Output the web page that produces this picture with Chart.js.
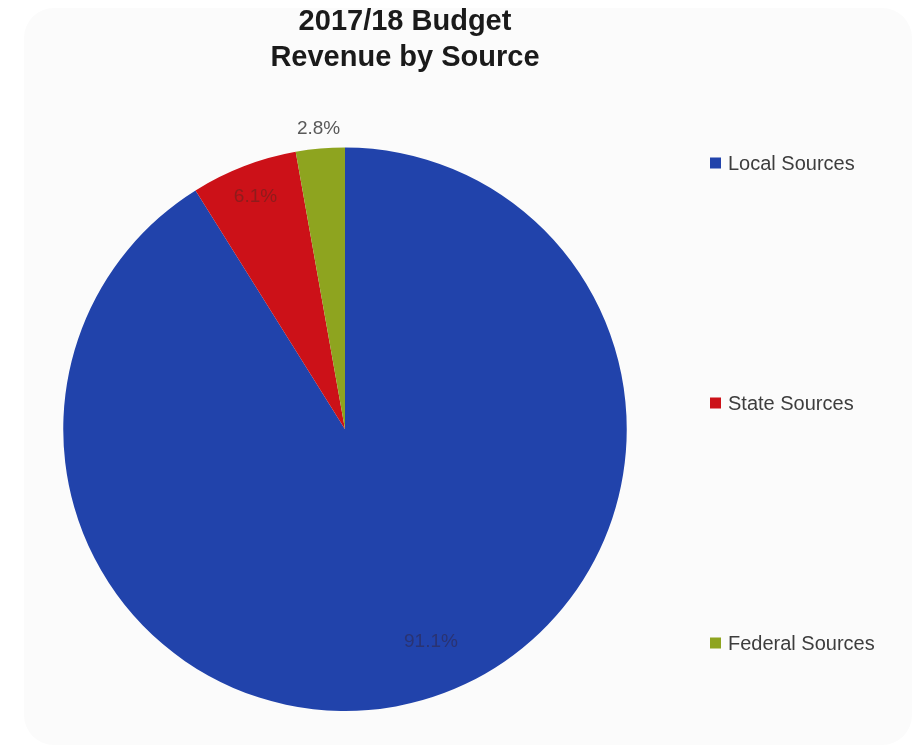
<!DOCTYPE html>
<html>
<head>
<meta charset="utf-8">
<script src="https://cdn.jsdelivr.net/npm/chart.js@4.4.1/dist/chart.umd.min.js"></script>
<style>
  html, body { margin: 0; padding: 0; background: #ffffff; overflow: hidden; }
  #card { position: absolute; left: 24px; top: 8px; width: 888px; height: 737px; border-radius: 30px; background: #fbfbfb; }
  #wrap { position: absolute; left: 0; top: 0; width: 922px; height: 751px; }
</style>
</head>
<body>
<div id="card"></div>
<div id="wrap"><canvas id="c"></canvas></div>
<script>
// ---- data ----
const titleLines = ['2017/18 Budget', 'Revenue by Source'];
const categories = ['Local Sources', 'State Sources', 'Federal Sources'];
const shares = [91.1, 6.1, 2.8];
const sliceColors = ['#2143ab', '#cc1118', '#8ea41f'];
const labelColors = ['#2a3372', '#8e1c1c', '#595959'];

// label anchor tweaks (radial factor of outer radius, angle shift in degrees)
const labelAnchors = [
  { f: 0.814, da: -6 },
  { f: 0.884, da: 0 },
  { f: 1.069, da: 0 }
];

// custom right-side legend box participating in Chart.js layout
const sideLegend = {
  id: 'sideLegend',
  beforeInit(chart, args, opts) {
    const box = {
      position: 'right',
      weight: 0,
      fullSize: false,
      options: {},
      width: 0, height: 0, left: 0, top: 0, right: 0, bottom: 0,
      isHorizontal() { return false; },
      update(maxWidth, maxHeight) {
        this.width = opts.boxWidth;
        this.height = maxHeight;
        return this.width;
      },
      draw() {
        const ctx = chart.ctx;
        const ds = chart.data.datasets[0];
        ctx.save();
        ctx.font = opts.font;
        ctx.textBaseline = 'middle';
        ctx.textAlign = 'left';
        chart.data.labels.forEach((lab, i) => {
          const y = this.top + opts.startY + i * opts.step;
          const x = this.left + opts.offsetX;
          ctx.fillStyle = ds.backgroundColor[i];
          ctx.fillRect(x, y - opts.swatch / 2, opts.swatch, opts.swatch);
          ctx.fillStyle = opts.color;
          ctx.fillText(lab, x + opts.swatch + 7, y + 1);
        });
        ctx.restore();
      }
    };
    Chart.layouts.addBox(chart, box);
  }
};

const pctLabels = {
  id: 'pctLabels',
  afterDatasetsDraw(chart, args, opts) {
    const ctx = chart.ctx;
    const meta = chart.getDatasetMeta(0);
    ctx.save();
    ctx.font = opts.font;
    ctx.textAlign = 'center';
    ctx.textBaseline = 'middle';
    meta.data.forEach((arc, i) => {
      const p = arc.getProps(['x', 'y', 'startAngle', 'endAngle', 'outerRadius'], true);
      const a = labelAnchors[i];
      const mid = (p.startAngle + p.endAngle) / 2 + a.da * Math.PI / 180;
      const r = p.outerRadius * a.f;
      ctx.fillStyle = labelColors[i];
      ctx.fillText(chart.data.datasets[0].data[i].toFixed(1) + '%', p.x + Math.cos(mid) * r, p.y + Math.sin(mid) * r);
    });
    ctx.restore();
  }
};

new Chart(document.getElementById('c'), {
  type: 'pie',
  data: {
    labels: categories,
    datasets: [{
      data: shares,
      backgroundColor: sliceColors,
      borderWidth: 0,
      hoverOffset: 0
    }]
  },
  options: {
    responsive: true,
    maintainAspectRatio: false,
    animation: false,
    events: [],
    layout: { padding: { left: 30, right: 142, top: 0, bottom: 40 } },
    plugins: {
      legend: { display: false },
      tooltip: { enabled: false },
      title: {
        display: true,
        text: titleLines,
        color: '#1a1a1a',
        font: { family: '"Liberation Sans", Arial, sans-serif', size: 29, weight: 'bold', lineHeight: 1.25 },
        padding: { top: 4, bottom: 71 }
      },
      sideLegend: {
        boxWidth: 120,
        offsetX: 50,
        startY: 15.5,
        step: 240,
        swatch: 11,
        font: '20px "Liberation Sans", Arial, sans-serif',
        color: '#3d3d3d'
      },
      pctLabels: {
        font: '19px "Liberation Sans", Arial, sans-serif'
      }
    }
  },
  plugins: [sideLegend, pctLabels]
});
</script>
</body>
</html>
